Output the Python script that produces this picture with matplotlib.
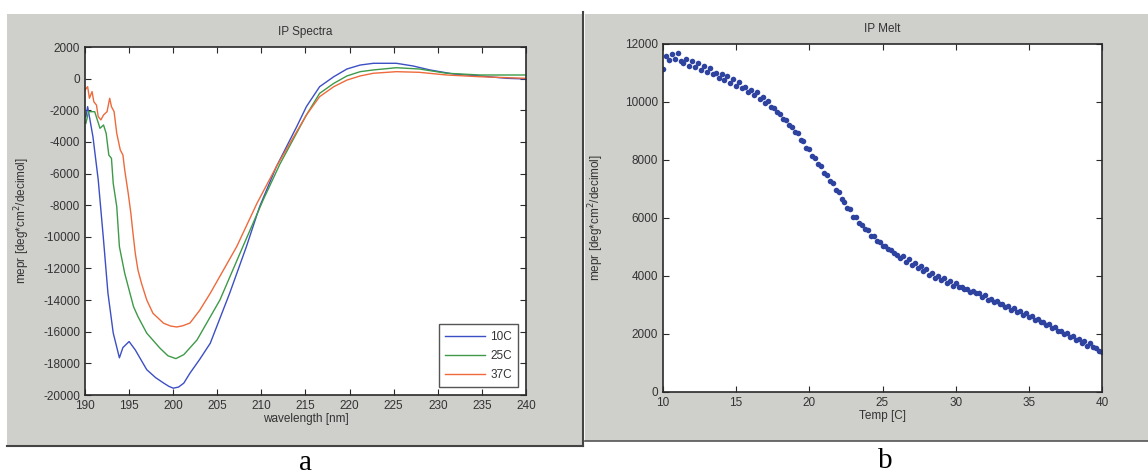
import numpy as np
import matplotlib
matplotlib.use('Agg')
import matplotlib.pyplot as plt
from matplotlib.patches import Rectangle
from matplotlib.lines import Line2D

# --- IP Spectra ---
wl_10c = [190.1, 190.3, 190.9, 191.5, 192.1, 192.6, 193.2, 193.9, 194.3, 195.0, 195.7,
          197.0, 198.0, 198.9, 199.5, 200.0, 200.6, 201.2, 201.9, 203.0, 204.2, 206.4,
          208.3, 209.8, 211.7, 214.0, 215.1, 216.6, 218.2, 219.7, 221.2, 222.7, 225.3,
          227.2, 229.1, 231.8, 234.8, 237.8, 240.0]
cd_10c = [-2400, -1770, -3670, -6400, -10200, -13550, -16080, -17650, -17000, -16620, -17150,
          -18400, -18900, -19240, -19450, -19570, -19500, -19250, -18620, -17750, -16730, -13570,
          -10620, -8090, -5560, -3040, -1770, -510, 120, 610, 860, 970, 970,
          800, 550, 290, 170, 20, -20]

wl_25c = [190.1, 190.4, 191.1, 191.7, 192.1, 192.4, 192.7, 193.0, 193.2, 193.6, 193.9,
          194.2, 194.5, 195.1, 195.5, 196.0, 197.0, 198.5, 199.4, 200.3, 201.2, 202.7,
          205.3, 207.9, 210.2, 212.1, 215.1, 216.6, 218.2, 219.7, 221.2, 222.7, 225.3,
          227.9, 231.0, 234.8, 240.0]
cd_25c = [-2830, -2090, -2090, -3140, -2930, -3460, -4830, -5040, -6620, -8090, -10620,
          -11460, -12300, -13570, -14410, -15040, -16090, -17040, -17520, -17700, -17450, -16520,
          -13990, -10620, -7670, -5400, -2300, -930, -300, 170, 440, 550, 690,
          610, 340, 230, 230]

wl_37c = [190.0, 190.3, 190.5, 190.8, 191.0, 191.3, 191.5, 191.8, 192.1, 192.5, 192.8,
          193.0, 193.3, 193.6, 194.0, 194.3, 194.5, 194.9, 195.2, 195.4, 195.7, 196.0,
          196.4, 197.0, 197.7, 198.9, 199.7, 200.4, 201.1, 201.9, 203.0, 204.2, 207.2,
          209.5, 211.7, 215.1, 216.6, 218.2, 219.7, 221.2, 222.7, 225.3, 227.9, 231.0,
          234.8, 240.0]
cd_37c = [-720, -510, -1240, -820, -1460, -1670, -2400, -2610, -2300, -2090, -1240,
          -1770, -2090, -3460, -4510, -4830, -5770, -7250, -8510, -9570, -11040, -12090,
          -12930, -13990, -14830, -15460, -15640, -15700, -15620, -15450, -14650, -13570, -10620,
          -7880, -5560, -2300, -1140, -510, -90, 170, 340, 440, 400, 230,
          120, 20]

# --- IP Melt, one reading every 0.2 C from 10 to 40 ---
melt_mepr = [11150, 11600, 11450, 11650, 11500, 11700, 11420, 11330, 11480, 11250,
             11400, 11200, 11330, 11120, 11250, 11030, 11160, 10950, 11000, 10830,
             10960, 10750, 10880, 10660, 10790, 10560, 10700, 10480, 10530, 10350,
             10420, 10230, 10350, 10100, 10180, 9950, 10040, 9820, 9800, 9650,
             9600, 9420, 9380, 9190, 9140, 8950, 8920, 8680, 8640, 8420,
             8380, 8150, 8080, 7870, 7800, 7550, 7500, 7270, 7210, 6980,
             6880, 6650, 6560, 6350, 6300, 6050, 6030, 5830, 5760, 5620,
             5570, 5390, 5390, 5220, 5180, 5050, 5030, 4920, 4900, 4780,
             4740, 4620, 4680, 4500, 4580, 4380, 4450, 4270, 4330, 4160,
             4230, 4050, 4110, 3940, 4000, 3860, 3920, 3760, 3830, 3660,
             3770, 3610, 3630, 3560, 3550, 3460, 3490, 3400, 3410, 3290,
             3330, 3180, 3220, 3110, 3130, 3020, 3030, 2920, 2950, 2840,
             2880, 2750, 2810, 2660, 2730, 2570, 2630, 2480, 2530, 2400,
             2420, 2310, 2330, 2200, 2230, 2110, 2120, 2000, 2050, 1880,
             1930, 1790, 1840, 1680, 1750, 1600, 1690, 1540, 1530, 1430,
             1380]
melt_temp = np.linspace(10, 40, len(melt_mepr))

W, H = 1148, 474
panel_grey = '#cfcfcc'
text_grey = '#333333'


def setup_matplotlib():
    params = {'font.family': ['Liberation Sans', 'DejaVu Sans'],
              'font.size': 8,
              'axes.unicode_minus': False,
              'axes.linewidth': 1.2,
              'axes.edgecolor': '#2a2a2a',
              'xtick.direction': 'in',
              'ytick.direction': 'in',
              'xtick.top': True,
              'ytick.right': True,
              'xtick.major.size': 4,
              'ytick.major.size': 4,
              'xtick.color': '#2a2a2a',
              'ytick.color': '#2a2a2a',
              'xtick.labelcolor': text_grey,
              'ytick.labelcolor': text_grey,
              'xtick.labelsize': 8.5,
              'ytick.labelsize': 8.5}
    plt.rcParams.update(params)


def px_box(x0, y0, x1, y1):
    # pixel box (top-left origin) -> figure fraction [left, bottom, width, height]
    return [x0 / W, (H - y1) / H, (x1 - x0) / W, (y1 - y0) / H]


def grey_panel(fig, x0, y0, x1, y1):
    l, b, w, h = px_box(x0, y0, x1, y1)
    fig.patches.append(Rectangle((l, b), w, h, transform=fig.transFigure,
                                 facecolor=panel_grey, edgecolor='none', zorder=-5))


def frame_line(fig, xs, ys, color, lw):
    fig.lines.append(Line2D([x / W for x in xs], [1 - y / H for y in ys],
                            transform=fig.transFigure, color=color, lw=lw, zorder=-4))


def plot_figure():
    setup_matplotlib()
    fig = plt.figure(figsize=(W / 100, H / 100), dpi=100, facecolor='white')

    grey_panel(fig, 7, 14, 583, 446)
    grey_panel(fig, 585, 14, W, 441)
    frame_line(fig, [7, 583], [446, 446], '#444444', 1.5)
    frame_line(fig, [583, 583], [12, 446], '#444444', 1.5)
    frame_line(fig, [585, W], [441, 441], '#555555', 1.2)

    # a) spectra
    ax1 = fig.add_axes(px_box(85, 47, 526, 395))
    ax1.plot(wl_10c, cd_10c, color='#3c4fc4', lw=1.0, label='10C')
    ax1.plot(wl_25c, cd_25c, color='#3e9a48', lw=1.0, label='25C')
    ax1.plot(wl_37c, cd_37c, color='#ee6a3c', lw=1.0, label='37C')
    ax1.set_xlim(190, 240)
    ax1.set_ylim(-20000, 2000)
    ax1.set_xticks(np.arange(190, 241, 5))
    ax1.set_yticks(np.arange(-20000, 2001, 2000))
    ax1.set_title('IP Spectra', fontsize=8.5, color=text_grey, pad=9)
    ax1.set_xlabel('wavelength [nm]', fontsize=8.5, color=text_grey, labelpad=1)
    ax1.set_ylabel('mepr [deg*cm$^2$/decimol]', fontsize=8.5, color=text_grey, labelpad=8)
    leg = ax1.legend(loc='lower right', fontsize=8.5, frameon=True, fancybox=False,
                     borderaxespad=0.65, handlelength=3.4, handletextpad=0.4,
                     labelspacing=0.6, borderpad=0.55)
    leg.get_frame().set_edgecolor('#2a2a2a')
    leg.get_frame().set_linewidth(1.0)
    for t in leg.get_texts():
        t.set_color(text_grey)

    # b) melt
    ax2 = fig.add_axes(px_box(663, 44, 1102, 392))
    ax2.plot(melt_temp, melt_mepr, 'o', color='#2e43a0', ms=4.0, mew=0)
    ax2.set_xlim(10, 40)
    ax2.set_ylim(0, 12000)
    ax2.set_xticks(np.arange(10, 41, 5))
    ax2.set_yticks(np.arange(0, 12001, 2000))
    ax2.set_title('IP Melt', fontsize=8.5, color=text_grey, pad=9)
    ax2.set_xlabel('Temp [C]', fontsize=8.5, color=text_grey, labelpad=1)
    ax2.set_ylabel('mepr [deg*cm$^2$/decimol]', fontsize=8.5, color=text_grey, labelpad=14)

    fig.text(305 / W, 1 - 463 / H, 'a', family='Liberation Serif', fontsize=21,
             ha='center', va='center')
    fig.text(885 / W, 1 - 461 / H, 'b', family='Liberation Serif', fontsize=21,
             ha='center', va='center')

    fig.savefig('out.png', dpi=100, facecolor='white')


if __name__ == '__main__':
    plot_figure()
